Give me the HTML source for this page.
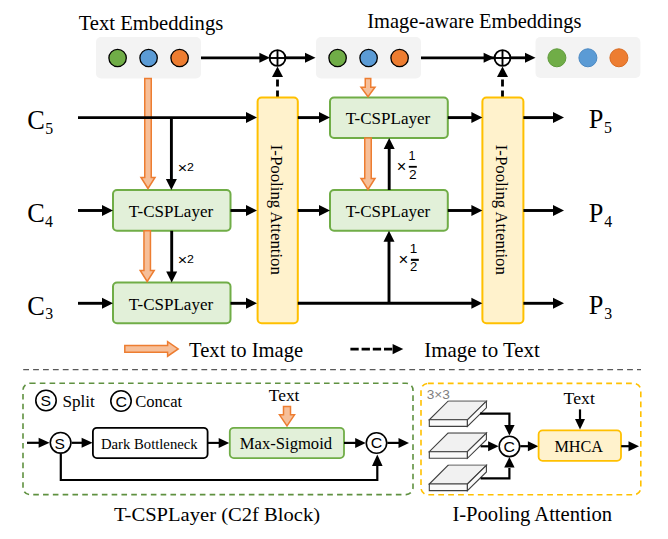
<!DOCTYPE html>
<html><head><meta charset="utf-8"><style>
html,body{margin:0;padding:0;background:#fff;}
svg{display:block;}
</style></head><body>
<svg width="668" height="539" viewBox="0 0 668 539">
<rect x="0" y="0" width="668" height="539" fill="#fff"/>
<text transform="translate(78.69,29.70) scale(1.0000,1)" font-family="Liberation Serif" font-size="20.62" fill="#000">Text Embeddings</text>
<text transform="translate(367.28,27.80) scale(1.0000,1)" font-family="Liberation Serif" font-size="20.47" fill="#000">Image-aware Embeddings</text>
<rect x="96" y="37" width="105.00" height="41.50" rx="5" fill="#F3F3F3" stroke="none" stroke-width="0" />
<circle cx="117.6" cy="58" r="8.7" fill="#70AD47" stroke="#000" stroke-width="1.3"/>
<circle cx="148.6" cy="58" r="8.7" fill="#5B9BD5" stroke="#000" stroke-width="1.3"/>
<circle cx="179.6" cy="58" r="8.7" fill="#ED7D31" stroke="#000" stroke-width="1.3"/>
<rect x="316" y="37" width="105.00" height="41.50" rx="5" fill="#F3F3F3" stroke="none" stroke-width="0" />
<circle cx="337.6" cy="58" r="8.7" fill="#70AD47" stroke="#000" stroke-width="1.3"/>
<circle cx="368.6" cy="58" r="8.7" fill="#5B9BD5" stroke="#000" stroke-width="1.3"/>
<circle cx="399.6" cy="58" r="8.7" fill="#ED7D31" stroke="#000" stroke-width="1.3"/>
<rect x="535.5" y="37" width="104.90" height="41.00" rx="5" fill="#F3F3F3" stroke="none" stroke-width="0" />
<circle cx="556.9" cy="57.8" r="9.0" fill="#70AD47" stroke="#5E9A3A" stroke-width="1.0"/>
<circle cx="587.9" cy="57.8" r="9.0" fill="#5B9BD5" stroke="#4A88C2" stroke-width="1.0"/>
<circle cx="618.9" cy="57.8" r="9.0" fill="#ED7D31" stroke="#D86A20" stroke-width="1.0"/>
<line x1="201" y1="57.8" x2="260.4" y2="57.8" stroke="#000" stroke-width="2.8" />
<polygon points="259.40,52.80 269.90,57.80 259.40,62.80" fill="#000" stroke="none" stroke-width="0" />
<line x1="285" y1="57.8" x2="306.0" y2="57.8" stroke="#000" stroke-width="2.8" />
<polygon points="305.00,52.80 315.50,57.80 305.00,62.80" fill="#000" stroke="none" stroke-width="0" />
<line x1="421" y1="57.8" x2="494" y2="57.8" stroke="#000" stroke-width="2.8" />
<polygon points="483.60,52.80 494.20,57.80 483.60,62.80" fill="#000" stroke="none" stroke-width="0" />
<line x1="510" y1="57.8" x2="526.0" y2="57.8" stroke="#000" stroke-width="2.8" />
<polygon points="525.00,52.80 535.50,57.80 525.00,62.80" fill="#000" stroke="none" stroke-width="0" />
<circle cx="277.5" cy="58" r="7.9" fill="#fff" stroke="#000" stroke-width="1.9"/>
<line x1="269.6" y1="58" x2="285.4" y2="58" stroke="#000" stroke-width="1.9" />
<line x1="277.5" y1="50.1" x2="277.5" y2="65.9" stroke="#000" stroke-width="1.9" />
<line x1="277.5" y1="97.5" x2="277.5" y2="76" stroke="#000" stroke-width="2.8" stroke-dasharray="7,4"/>
<polygon points="272.00,77.00 277.50,66.50 283.00,77.00" fill="#000" stroke="none" stroke-width="0" />
<circle cx="502.5" cy="58" r="7.9" fill="#fff" stroke="#000" stroke-width="1.9"/>
<line x1="494.6" y1="58" x2="510.4" y2="58" stroke="#000" stroke-width="1.9" />
<line x1="502.5" y1="50.1" x2="502.5" y2="65.9" stroke="#000" stroke-width="1.9" />
<line x1="502.5" y1="97.5" x2="502.5" y2="76" stroke="#000" stroke-width="2.8" stroke-dasharray="7,4"/>
<polygon points="497.00,77.00 502.50,66.50 508.00,77.00" fill="#000" stroke="none" stroke-width="0" />
<text transform="translate(27.15,128.70) scale(1.0000,1)" font-family="Liberation Serif" font-size="26.30" fill="#000">C</text>
<text transform="translate(45.15,134.10) scale(0.9000,1)" font-family="Liberation Serif" font-size="17.60" fill="#000">5</text>
<text transform="translate(27.15,221.70) scale(1.0000,1)" font-family="Liberation Serif" font-size="26.30" fill="#000">C</text>
<text transform="translate(44.98,227.10) scale(0.9000,1)" font-family="Liberation Serif" font-size="17.60" fill="#000">4</text>
<text transform="translate(27.15,314.70) scale(1.0000,1)" font-family="Liberation Serif" font-size="26.30" fill="#000">C</text>
<text transform="translate(45.31,319.40) scale(0.9000,1)" font-family="Liberation Serif" font-size="17.60" fill="#000">3</text>
<text transform="translate(588.81,128.40) scale(1.0000,1)" font-family="Liberation Serif" font-size="26.30" fill="#000">P</text>
<text transform="translate(604.05,133.40) scale(0.9000,1)" font-family="Liberation Serif" font-size="17.60" fill="#000">5</text>
<text transform="translate(588.81,221.60) scale(1.0000,1)" font-family="Liberation Serif" font-size="26.30" fill="#000">P</text>
<text transform="translate(604.28,226.60) scale(0.9000,1)" font-family="Liberation Serif" font-size="17.60" fill="#000">4</text>
<text transform="translate(588.81,314.40) scale(1.0000,1)" font-family="Liberation Serif" font-size="26.30" fill="#000">P</text>
<text transform="translate(604.21,319.40) scale(0.9000,1)" font-family="Liberation Serif" font-size="17.60" fill="#000">3</text>
<rect x="257.6" y="97.6" width="40.20" height="225.70" rx="4" fill="#FFF2CC" stroke="#FFC000" stroke-width="2" />
<rect x="482.4" y="97.5" width="41.00" height="225.80" rx="4" fill="#FFF2CC" stroke="#FFC000" stroke-width="2" />
<text transform="translate(270.70,144.73) rotate(90) scale(1.0000,1)" font-family="Liberation Serif" font-size="16.81" fill="#000">I-Pooling Attention</text>
<text transform="translate(495.70,144.73) rotate(90) scale(1.0000,1)" font-family="Liberation Serif" font-size="16.81" fill="#000">I-Pooling Attention</text>
<rect x="113" y="190" width="117.50" height="40.80" rx="4" fill="#E2F0D9" stroke="#70AD47" stroke-width="2" />
<text transform="translate(128.66,216.80) scale(1.0000,1)" font-family="Liberation Serif" font-size="17.02" fill="#000">T-CSPLayer</text>
<rect x="113" y="282.6" width="117.50" height="40.70" rx="4" fill="#E2F0D9" stroke="#70AD47" stroke-width="2" />
<text transform="translate(128.66,309.80) scale(1.0000,1)" font-family="Liberation Serif" font-size="17.02" fill="#000">T-CSPLayer</text>
<rect x="330" y="97.5" width="117.80" height="40.50" rx="4" fill="#E2F0D9" stroke="#70AD47" stroke-width="2" />
<text transform="translate(345.76,124.10) scale(1.0000,1)" font-family="Liberation Serif" font-size="17.02" fill="#000">T-CSPLayer</text>
<rect x="330" y="190" width="117.80" height="40.80" rx="4" fill="#E2F0D9" stroke="#70AD47" stroke-width="2" />
<text transform="translate(345.76,216.80) scale(1.0000,1)" font-family="Liberation Serif" font-size="17.02" fill="#000">T-CSPLayer</text>
<polygon points="144.75,78.50 151.25,78.50 151.25,177.50 155.00,177.50 148.00,188.50 141.00,177.50 144.75,177.50" fill="#F6BF99" stroke="#ED7D31" stroke-width="1.5" stroke-linejoin="miter"/>
<polygon points="143.95,230.80 150.45,230.80 150.45,270.50 154.20,270.50 147.20,281.50 140.20,270.50 143.95,270.50" fill="#F6BF99" stroke="#ED7D31" stroke-width="1.5" stroke-linejoin="miter"/>
<polygon points="365.25,78.50 370.75,78.50 370.75,87.30 375.00,87.30 368.00,96.80 361.00,87.30 365.25,87.30" fill="#F6BF99" stroke="#ED7D31" stroke-width="1.5" stroke-linejoin="miter"/>
<polygon points="364.75,138.00 371.25,138.00 371.25,178.50 375.00,178.50 368.00,189.50 361.00,178.50 364.75,178.50" fill="#F6BF99" stroke="#ED7D31" stroke-width="1.5" stroke-linejoin="miter"/>
<line x1="78" y1="117.6" x2="247" y2="117.6" stroke="#000" stroke-width="2.9" />
<polygon points="246.00,112.10 257.00,117.60 246.00,123.10" fill="#000" stroke="none" stroke-width="0" />
<line x1="78" y1="210.5" x2="103" y2="210.5" stroke="#000" stroke-width="2.9" />
<polygon points="102.00,205.00 113.00,210.50 102.00,216.00" fill="#000" stroke="none" stroke-width="0" />
<line x1="78" y1="303.3" x2="103" y2="303.3" stroke="#000" stroke-width="2.9" />
<polygon points="102.00,297.80 113.00,303.30 102.00,308.80" fill="#000" stroke="none" stroke-width="0" />
<line x1="230.5" y1="210.5" x2="247" y2="210.5" stroke="#000" stroke-width="2.9" />
<polygon points="246.00,205.00 257.00,210.50 246.00,216.00" fill="#000" stroke="none" stroke-width="0" />
<line x1="230.5" y1="303.3" x2="247" y2="303.3" stroke="#000" stroke-width="2.9" />
<polygon points="246.00,297.80 257.00,303.30 246.00,308.80" fill="#000" stroke="none" stroke-width="0" />
<line x1="297.8" y1="117.6" x2="320" y2="117.6" stroke="#000" stroke-width="2.9" />
<polygon points="319.00,112.10 330.00,117.60 319.00,123.10" fill="#000" stroke="none" stroke-width="0" />
<line x1="297.8" y1="210.5" x2="320" y2="210.5" stroke="#000" stroke-width="2.9" />
<polygon points="319.00,205.00 330.00,210.50 319.00,216.00" fill="#000" stroke="none" stroke-width="0" />
<line x1="297.8" y1="303.3" x2="472.4" y2="303.3" stroke="#000" stroke-width="2.9" />
<polygon points="471.40,297.80 482.40,303.30 471.40,308.80" fill="#000" stroke="none" stroke-width="0" />
<line x1="447.8" y1="117.6" x2="472.4" y2="117.6" stroke="#000" stroke-width="2.9" />
<polygon points="471.40,112.10 482.40,117.60 471.40,123.10" fill="#000" stroke="none" stroke-width="0" />
<line x1="447.8" y1="210.5" x2="472.4" y2="210.5" stroke="#000" stroke-width="2.9" />
<polygon points="471.40,205.00 482.40,210.50 471.40,216.00" fill="#000" stroke="none" stroke-width="0" />
<line x1="523.4" y1="117.6" x2="554" y2="117.6" stroke="#000" stroke-width="2.9" />
<polygon points="553.00,112.10 564.00,117.60 553.00,123.10" fill="#000" stroke="none" stroke-width="0" />
<line x1="523.4" y1="210.5" x2="554" y2="210.5" stroke="#000" stroke-width="2.9" />
<polygon points="553.00,205.00 564.00,210.50 553.00,216.00" fill="#000" stroke="none" stroke-width="0" />
<line x1="523.4" y1="303.3" x2="554" y2="303.3" stroke="#000" stroke-width="2.9" />
<polygon points="553.00,297.80 564.00,303.30 553.00,308.80" fill="#000" stroke="none" stroke-width="0" />
<line x1="171.4" y1="117.6" x2="171.4" y2="180" stroke="#000" stroke-width="2.9" />
<polygon points="165.90,179.00 171.40,190.00 176.90,179.00" fill="#000" stroke="none" stroke-width="0" />
<line x1="171.7" y1="230.8" x2="171.7" y2="272.6" stroke="#000" stroke-width="2.9" />
<polygon points="166.20,271.60 171.70,282.60 177.20,271.60" fill="#000" stroke="none" stroke-width="0" />
<line x1="389.2" y1="190" x2="389.2" y2="148" stroke="#000" stroke-width="2.9" />
<polygon points="383.70,149.00 389.20,138.00 394.70,149.00" fill="#000" stroke="none" stroke-width="0" />
<line x1="389" y1="303.3" x2="389" y2="240.8" stroke="#000" stroke-width="2.9" />
<polygon points="383.50,241.80 389.00,230.80 394.50,241.80" fill="#000" stroke="none" stroke-width="0" />
<text transform="translate(177.77,173.09) scale(1.0500,1)" font-family="Liberation Sans" font-size="15.37" fill="#000">×</text>
<text transform="translate(187.08,170.80) scale(1.0500,1)" font-family="Liberation Sans" font-size="11.80" fill="#000">2</text>
<text transform="translate(177.77,265.09) scale(1.0500,1)" font-family="Liberation Sans" font-size="15.37" fill="#000">×</text>
<text transform="translate(187.08,262.80) scale(1.0500,1)" font-family="Liberation Sans" font-size="11.80" fill="#000">2</text>
<text transform="translate(396.85,171.91) scale(1.0500,1)" font-family="Liberation Sans" font-size="15.58" fill="#000">×</text>
<text transform="translate(408.60,159.80) scale(1.0500,1)" font-family="Liberation Sans" font-size="11.96" fill="#000">1</text>
<rect x="408.8" y="165.9" width="8.00" height="1.80" rx="0" fill="#000" stroke="none" stroke-width="0" />
<text transform="translate(408.92,179.00) scale(1.0500,1)" font-family="Liberation Sans" font-size="13.04" fill="#000">2</text>
<text transform="translate(398.62,265.36) scale(1.0500,1)" font-family="Liberation Sans" font-size="16.02" fill="#000">×</text>
<text transform="translate(409.82,252.90) scale(1.0500,1)" font-family="Liberation Sans" font-size="12.85" fill="#000">1</text>
<rect x="410.9" y="258.8" width="7.90" height="2.10" rx="0" fill="#000" stroke="none" stroke-width="0" />
<text transform="translate(410.05,271.00) scale(1.0500,1)" font-family="Liberation Sans" font-size="12.42" fill="#000">2</text>
<polygon points="124.80,345.60 167.60,345.60 167.60,341.60 178.20,348.90 167.60,356.20 167.60,352.20 124.80,352.20" fill="#F6BF99" stroke="#ED7D31" stroke-width="1.5" />
<text transform="translate(189.09,356.80) scale(1.0000,1)" font-family="Liberation Serif" font-size="20.60" fill="#000">Text to Image</text>
<line x1="350.4" y1="349.1" x2="393" y2="349.1" stroke="#000" stroke-width="2.8" stroke-dasharray="8.3,2.9"/>
<polygon points="392.60,343.90 403.30,349.10 392.60,354.30" fill="#000" stroke="none" stroke-width="0" />
<text transform="translate(424.36,356.80) scale(1.0000,1)" font-family="Liberation Serif" font-size="20.91" fill="#000">Image to Text</text>
<line x1="23" y1="369.6" x2="641" y2="369.6" stroke="#595959" stroke-width="1.4" stroke-dasharray="5.8,4.1" stroke-dashoffset="-0.2"/>
<rect x="23" y="383.2" width="390" height="111.4" rx="7" fill="none" stroke="#5F9140" stroke-width="1.6" stroke-dasharray="5.6,4.2"/>
<circle cx="46" cy="400.5" r="10.2" fill="#fff" stroke="#000" stroke-width="1.6"/>
<text transform="translate(40.41,406.40) scale(1.0600,1)" font-family="Liberation Sans" font-size="14.90" fill="#000">S</text>
<text transform="translate(62.50,407.00) scale(1.0000,1)" font-family="Liberation Serif" font-size="17.13" fill="#000">Split</text>
<circle cx="121" cy="401" r="10.2" fill="#fff" stroke="#000" stroke-width="1.6"/>
<text transform="translate(115.41,406.60) scale(1.0600,1)" font-family="Liberation Sans" font-size="14.97" fill="#000">C</text>
<text transform="translate(135.14,406.90) scale(1.0000,1)" font-family="Liberation Serif" font-size="16.59" fill="#000">Concat</text>
<line x1="27" y1="442.8" x2="39.6" y2="442.8" stroke="#000" stroke-width="2.2" />
<polygon points="38.60,437.80 49.60,442.80 38.60,447.80" fill="#000" stroke="none" stroke-width="0" />
<circle cx="60.6" cy="442.8" r="10.3" fill="#fff" stroke="#000" stroke-width="1.6"/>
<text transform="translate(54.62,449.10) scale(1.0600,1)" font-family="Liberation Sans" font-size="14.73" fill="#000">S</text>
<line x1="71.6" y1="442.8" x2="82.6" y2="442.8" stroke="#000" stroke-width="2.2" />
<polygon points="81.60,437.80 92.60,442.80 81.60,447.80" fill="#000" stroke="none" stroke-width="0" />
<rect x="92.9" y="427.8" width="114.70" height="30.30" rx="4" fill="#fff" stroke="#000" stroke-width="1.8" />
<text transform="translate(100.96,448.90) scale(1.0000,1)" font-family="Liberation Serif" font-size="14.69" fill="#000">Dark Bottleneck</text>
<line x1="207.6" y1="442.9" x2="219.7" y2="442.9" stroke="#000" stroke-width="2.1" />
<polygon points="218.70,437.90 229.20,442.90 218.70,447.90" fill="#000" stroke="none" stroke-width="0" />
<rect x="229.8" y="427.8" width="114.20" height="30.30" rx="4" fill="#E2F0D9" stroke="#70AD47" stroke-width="1.8" />
<text transform="translate(239.80,448.90) scale(1.0000,1)" font-family="Liberation Serif" font-size="16.61" fill="#000">Max-Sigmoid</text>
<text transform="translate(268.75,401.00) scale(1.0000,1)" font-family="Liberation Serif" font-size="17.41" fill="#000">Text</text>
<polygon points="283.50,406.40 290.50,406.40 290.50,414.80 294.50,414.80 287.00,425.80 279.50,414.80 283.50,414.80" fill="#F6BF99" stroke="#ED7D31" stroke-width="1.5" stroke-linejoin="miter"/>
<line x1="344" y1="442.9" x2="356.2" y2="442.9" stroke="#000" stroke-width="2.2" />
<polygon points="355.20,437.90 365.70,442.90 355.20,447.90" fill="#000" stroke="none" stroke-width="0" />
<circle cx="376.5" cy="443" r="10.2" fill="#fff" stroke="#000" stroke-width="1.6"/>
<text transform="translate(370.71,448.40) scale(1.0600,1)" font-family="Liberation Sans" font-size="14.97" fill="#000">C</text>
<line x1="387.3" y1="442.9" x2="399.5" y2="442.9" stroke="#000" stroke-width="2.2" />
<polygon points="398.50,437.90 409.00,442.90 398.50,447.90" fill="#000" stroke="none" stroke-width="0" />
<polyline points="60.8,453.7 60.8,480 377.3,480 377.3,465" fill="none" stroke="#000" stroke-width="2.2"/>
<polygon points="372.00,466.00 377.30,454.40 382.60,466.00" fill="#000" stroke="none" stroke-width="0" />
<rect x="421" y="383.4" width="219.8" height="111.4" rx="7" fill="none" stroke="#FFC000" stroke-width="1.6" stroke-dasharray="5.8,4.1"/>
<text transform="translate(426.75,398.90) scale(1.0500,1)" font-family="Liberation Sans" font-size="13.01" fill="#7F7F7F">3×3</text>
<polygon points="448.00,401.20 486.40,401.20 467.40,419.80 429.30,419.80" fill="#F1F1F1" stroke="#404040" stroke-width="1.1" />
<line x1="448.6" y1="401.2" x2="486" y2="401.2" stroke="#9A9A9A" stroke-width="1.4"/>
<polygon points="429.30,419.80 467.40,419.80 467.40,426.40 429.30,426.40" fill="#FAFAFA" stroke="#404040" stroke-width="1.1" />
<polygon points="467.40,419.80 486.40,401.20 486.40,407.80 467.40,426.40" fill="#FAFAFA" stroke="#404040" stroke-width="1.1" />
<polygon points="448.00,433.10 486.40,433.10 467.40,451.70 429.30,451.70" fill="#F1F1F1" stroke="#404040" stroke-width="1.1" />
<line x1="448.6" y1="433.1" x2="486" y2="433.1" stroke="#9A9A9A" stroke-width="1.4"/>
<polygon points="429.30,451.70 467.40,451.70 467.40,458.30 429.30,458.30" fill="#FAFAFA" stroke="#404040" stroke-width="1.1" />
<polygon points="467.40,451.70 486.40,433.10 486.40,439.70 467.40,458.30" fill="#FAFAFA" stroke="#404040" stroke-width="1.1" />
<polygon points="448.00,465.40 486.40,465.40 467.40,484.00 429.30,484.00" fill="#F1F1F1" stroke="#404040" stroke-width="1.1" />
<line x1="448.6" y1="465.4" x2="486" y2="465.4" stroke="#9A9A9A" stroke-width="1.4"/>
<polygon points="429.30,484.00 467.40,484.00 467.40,490.60 429.30,490.60" fill="#FAFAFA" stroke="#404040" stroke-width="1.1" />
<polygon points="467.40,484.00 486.40,465.40 486.40,472.00 467.40,490.60" fill="#FAFAFA" stroke="#404040" stroke-width="1.1" />
<polyline points="480,413.6 509.4,413.6 509.4,425" fill="none" stroke="#000" stroke-width="2.2"/>
<polygon points="504.20,425.00 509.40,435.60 514.60,425.00" fill="#000" stroke="none" stroke-width="0" />
<line x1="480.6" y1="446.3" x2="489.1" y2="446.3" stroke="#000" stroke-width="2.2" />
<polygon points="488.10,441.30 498.60,446.30 488.10,451.30" fill="#000" stroke="none" stroke-width="0" />
<polyline points="480.6,478.4 509.4,478.4 509.4,468" fill="none" stroke="#000" stroke-width="2.2"/>
<polygon points="504.20,467.50 509.40,457.00 514.60,467.50" fill="#000" stroke="none" stroke-width="0" />
<circle cx="509.4" cy="446.4" r="10.2" fill="#fff" stroke="#000" stroke-width="1.6"/>
<text transform="translate(503.61,451.80) scale(1.0600,1)" font-family="Liberation Sans" font-size="14.97" fill="#000">C</text>
<line x1="520.2" y1="446.2" x2="528.9" y2="446.2" stroke="#000" stroke-width="2.2" />
<polygon points="527.90,441.20 538.40,446.20 527.90,451.20" fill="#000" stroke="none" stroke-width="0" />
<rect x="538.6" y="430.4" width="82.40" height="30.40" rx="4" fill="#FFF2CC" stroke="#FFC000" stroke-width="1.8" />
<text transform="translate(554.41,451.50) scale(1.0135,1)" font-family="Liberation Serif" font-size="16.00" fill="#000">MHCA</text>
<text transform="translate(563.54,403.80) scale(1.0000,1)" font-family="Liberation Serif" font-size="17.76" fill="#000">Text</text>
<line x1="580" y1="409.4" x2="580" y2="420.1" stroke="#000" stroke-width="2.2" />
<polygon points="575.00,419.10 580.00,429.60 585.00,419.10" fill="#000" stroke="none" stroke-width="0" />
<line x1="621.2" y1="446.2" x2="629.5" y2="446.2" stroke="#000" stroke-width="2.2" />
<polygon points="628.50,441.20 639.00,446.20 628.50,451.20" fill="#000" stroke="none" stroke-width="0" />
<text transform="translate(113.89,520.80) scale(1.0400,1)" font-family="Liberation Serif" font-size="19.80" fill="#000">T-CSPLayer (C2f Block)</text>
<text transform="translate(452.38,520.80) scale(1.0000,1)" font-family="Liberation Serif" font-size="20.62" fill="#000">I-Pooling Attention</text>
</svg>
</body></html>
